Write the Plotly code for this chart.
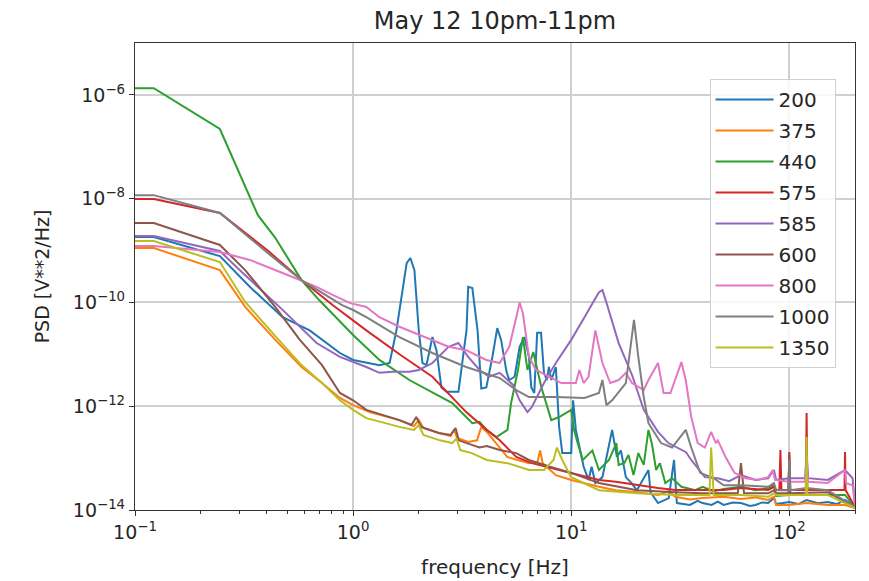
import plotly.graph_objects as go
import numpy as np

# ---- data (frequency [Hz], PSD [V**2/Hz]) ----
series_names = ["200", "375", "440", "575", "585", "600", "800", "1000", "1350"]

x_tick_vals = [0.1, 1, 10, 100]
x_tick_text = ["10<sup>−1</sup>", "10<sup>0</sup>", "10<sup>1</sup>", "10<sup>2</sup>"]
x_minor_vals = [0.2, 0.3, 0.4, 0.5, 0.6, 0.7, 0.8, 0.9, 2, 3, 4, 5, 6, 7, 8, 9,
                20, 30, 40, 50, 60, 70, 80, 90, 200]
y_tick_vals = [1e-14, 1e-12, 1e-10, 1e-8, 1e-6]
y_tick_text = ["10<sup>−14</sup>", "10<sup>−12</sup>", "10<sup>−10</sup>", "10<sup>−8</sup>", "10<sup>−6</sup>"]

psd_200 = [(0.1,1.82e-9),(0.122,1.82e-9),(0.245,7.8e-10),(0.336,2.0e-10),(0.475,5.2e-11),(0.632,2.9e-11),
    (0.87,1.06e-11),(1.0,7.8e-12),(1.32,6.2e-12),(1.47,6.8e-12),(1.58,2.9e-11),(1.76,5.7e-10),(1.83,7.2e-10),
    (1.91,4.2e-10),(2.0,2.9e-11),(2.08,6.8e-12),(2.17,6.2e-12),(2.31,2.15e-11),(2.41,1.2e-11),(2.54,2.3e-12),
    (2.68,1.9e-12),(3.04,1.9e-12),(3.31,2.9e-11),(3.37,2.0e-10),(3.52,1.9e-10),(3.72,2.9e-11),(3.87,2.2e-12),
    (4.08,2.3e-12),(4.35,8.9e-12),(4.58,3.2e-11),(4.77,1.9e-11),(5.05,4.6e-12),(5.2,3.2e-12),(5.5,3.7e-12),
    (5.8,1.4e-11),(6.1,2.15e-11),(6.4,8.9e-12),(6.56,2.3e-12),(6.77,1.8e-12),(6.98,2.6e-11),(7.27,2.6e-11),
    (7.5,4.4e-12),(7.74,3.2e-12),(7.9,5.7e-12),(8.1,3.2e-12),(8.5,5.7e-12),(8.8,4.0e-13),(9.1,1.25e-13),
    (10.0,1.25e-13),(10.2,1.3e-12),(10.5,3.5e-13),(10.9,1.6e-13),(11.4,6.8e-14),(12.0,3.8e-14),(12.4,6.8e-14),
    (12.9,3.3e-14),(13.9,4.3e-14),(15.4,3.5e-13),(16.2,1.05e-13),(16.9,1.4e-13),(17.8,4.3e-14),(18.9,3.3e-14),
    (20,2.4e-14),(22.6,5.9e-14),(23.1,2.2e-14),(25,1.36e-14),(28,1.7e-14),(29.6,9.2e-14),(30.5,1.36e-14),
    (35,1.25e-14),(38,1.5e-14),(40,1.36e-14),(44,1.25e-14),(47,1.45e-14),(50,1.25e-14),(55,1.4e-14),
    (60,1.36e-14),(66,1.2e-14),(70,1.25e-14),(75,1.4e-14),(80,1.36e-14),(85,1.7e-14),(87,1.3e-14),
    (100,1.43e-14),(110,1.3e-14),(120,1.56e-14),(135,1.35e-14),(150,1.43e-14),(165,1.3e-14),(180,1.56e-14),
    (195,1.25e-14),(200,1.09e-14)]

psd_375 = [(0.1,1.12e-9),(0.122,1.12e-9),(0.245,4.2e-10),(0.32,8.2e-11),(0.44,1.9e-11),(0.58,5.7e-12),
    (0.72,2.8e-12),(0.87,1.44e-12),(1.0,1.05e-12),(1.19,7.7e-13),(1.63,5.4e-13),(1.9,4.15e-13),(2.0,5.4e-13),
    (2.1,3.8e-13),(2.47,3.05e-13),(2.8,2.67e-13),(2.9,3.5e-13),(3.0,2.44e-13),(3.37,2.04e-13),(3.7,2.2e-13),
    (3.87,4.0e-13),(4.1,3.2e-13),(4.7,1.6e-13),(5.1,1.05e-13),(6.4,8.0e-14),(7.0,8.4e-14),(7.2,1.4e-13),
    (7.4,8.0e-14),(8.5,4.7e-14),(10,3.8e-14),(13.4,2.8e-14),(16,2.4e-14),(20,2.2e-14),(25,1.95e-14),
    (28,2.3e-14),(30,1.8e-14),(35,1.6e-14),(40,1.7e-14),(50,1.8e-14),(60,1.63e-14),(70,1.75e-14),
    (80,1.56e-14),(85,1.8e-14),(87,1.25e-14),(100,1.25e-14),(120,1.36e-14),(150,1.25e-14),(180,1.25e-14),
    (200,1.09e-14)]

psd_440 = [(0.1,1.35e-6),(0.122,1.35e-6),(0.245,2.2e-7),(0.366,4.8e-9),(0.438,1.8e-9),(0.58,2.7e-10),
    (0.70,1.1e-10),(0.886,4.0e-11),(1.0,2.36e-11),(1.32,7.8e-12),(1.81,3.2e-12),(2.85,1.15e-12),(3.52,4.7e-13),
    (3.8,5.0e-13),(4.08,3.5e-13),(4.54,2.55e-13),(5.1,3.5e-13),(5.3,1.15e-12),(5.7,5.0e-12),(6.0,2.15e-11),
    (6.3,5.0e-12),(6.7,1.11e-11),(7.3,2.3e-12),(8.1,5.4e-13),(8.8,6.2e-13),(10,8.5e-13),(10.3,3.5e-13),
    (10.7,1.95e-13),(11.3,9.2e-14),(12.5,1.4e-13),(13.4,5.9e-14),(14.9,9.2e-14),(16.1,1.95e-13),(16.5,7.4e-14),
    (17.5,8.0e-14),(18.3,1.15e-13),(19.3,4.7e-14),(20.3,1.25e-13),(21.5,7.4e-14),(22.6,3.5e-13),(23.5,1.79e-13),
    (24.5,5.9e-14),(25.5,8.0e-14),(27,3.3e-14),(29,4.1e-14),(32,2.8e-14),(37,2.4e-14),(40,2.8e-14),
    (45,2.3e-14),(50,2.54e-14),(60,2.8e-14),(70,2.4e-14),(80,2.65e-14),(85,3.0e-14),(87,1.86e-14),
    (100,1.95e-14),(120,1.95e-14),(150,1.95e-14),(180,1.95e-14),(200,1.14e-14)]

psd_575 = [(0.1,9.8e-9),(0.122,9.8e-9),(0.245,5.3e-9),(0.406,1.0e-9),(0.58,2.7e-10),(0.805,8.9e-11),
    (1.15,2.9e-11),(1.65,9.7e-12),(2.31,3.7e-12),(3.3,7.7e-13),(4.1,3.5e-13),(4.7,2.2e-13),(5.6,1.05e-13),
    (6.6,8.0e-14),(8.8,5.9e-14),(13.4,3.8e-14),(16,3.5e-14),(20,3.0e-14),(25,2.65e-14),(30,2.43e-14),
    (40,2.43e-14),(50,2.43e-14),(60,2.65e-14),(80,2.43e-14),(85,2.8e-14),(87,2.43e-14),(90,2.43e-14),
    (91,1.43e-13),(92,2.43e-14),(99,2.43e-14),(100,1.31e-13),(101,2.43e-14),(119,2.43e-14),(120,7.4e-13),
    (121,2.43e-14),(150,2.43e-14),(179,2.43e-14),(180,1.31e-13),(181,2.43e-14),(200,1.14e-14)]

psd_585 = [(0.1,1.9e-9),(0.122,1.9e-9),(0.245,9.8e-10),(0.312,3.7e-10),(0.475,7.2e-11),(0.68,1.65e-11),
    (0.87,8.9e-12),(1.15,5.7e-12),(1.32,4.4e-12),(1.52,4.6e-12),(1.81,4.6e-12),(2.0,5.0e-12),(2.31,6.8e-12),
    (2.74,1.4e-11),(3.04,1.65e-11),(3.37,8.9e-12),(3.8,5.0e-12),(4.2,3.7e-12),(4.7,4.4e-12),(5.4,2.6e-12),
    (5.8,1.3e-12),(6.3,7.7e-13),(6.6,9.7e-13),(7.5,2.8e-12),(8.5,6.8e-12),(10.0,1.9e-11),(11.5,5.2e-11),
    (13.4,1.58e-10),(13.9,1.73e-10),(14.5,1.0e-10),(16.5,1.65e-11),(19,4.0e-12),(21.5,8.5e-13),(25,3.2e-13),
    (27.9,1.95e-13),(33.6,1.3e-13),(35.5,9.2e-14),(41,4.3e-14),(47,4.1e-14),(53,3.6e-14),(60,4.7e-14),
    (70,3.8e-14),(80,4.1e-14),(85,5.9e-14),(87,3.8e-14),(100,4.1e-14),(118,4.1e-14),(120,1.15e-13),
    (122,4.1e-14),(150,3.8e-14),(180,5.9e-14),(195,4.1e-14),(200,1.25e-14)]

psd_600 = [(0.1,3.4e-9),(0.122,3.4e-9),(0.245,1.28e-9),(0.32,4.2e-10),(0.44,8.15e-11),(0.57,1.9e-11),
    (0.72,6.2e-12),(0.87,1.8e-12),(1.0,1.3e-12),(1.15,8.5e-13),(1.63,5.4e-13),(1.85,4.35e-13),(1.95,6.2e-13),
    (2.05,4.0e-13),(2.47,3.05e-13),(2.8,2.8e-13),(2.95,3.8e-13),(3.05,2.2e-13),(3.5,1.8e-13),(3.8,1.6e-13),
    (4.1,1.71e-13),(4.7,1.43e-13),(5.6,1.25e-13),(6.4,9.2e-14),(8.0,6.8e-14),(10,5.2e-14),(13.4,3.3e-14),
    (20,2.4e-14),(30,2.2e-14),(40,2.1e-14),(50,2.1e-14),(58,2.1e-14),(60,8.0e-14),(62,2.1e-14),(80,2.1e-14),
    (85,2.4e-14),(87,2.1e-14),(99,2.1e-14),(100,1.15e-13),(101,2.1e-14),(150,2.2e-14),(200,1.14e-14)]

psd_800 = [(0.1,1.22e-9),(0.122,1.22e-9),(0.245,9.4e-10),(0.336,6.6e-10),(0.475,3.7e-10),(0.68,2.0e-10),
    (0.805,1.4e-10),(0.97,9.7e-11),(1.15,8.2e-11),(1.32,5.2e-11),(1.63,3.4e-11),(2.31,1.9e-11),(2.74,1.4e-11),
    (3.3,1.2e-11),(4.08,7.8e-12),(4.7,6.8e-12),(5.2,1.4e-11),(5.6,5.2e-11),(5.8,1.0e-10),(6.0,6.25e-11),
    (6.4,8.9e-12),(6.9,5.0e-12),(7.9,3.7e-12),(9.0,2.8e-12),(10.5,2.8e-12),(10.9,5.0e-12),(11.4,2.8e-12),
    (12.0,3.7e-12),(12.9,2.9e-11),(13.9,6.8e-12),(15.1,2.8e-12),(16.5,3.2e-12),(17.8,4.4e-12),(19,2.8e-12),
    (21.5,2.05e-12),(22.6,3.2e-12),(25,6.8e-12),(26.5,1.8e-12),(28.5,1.8e-12),(32,7.1e-12),(33.5,3.2e-12),
    (35.5,6.2e-13),(38,1.95e-13),(41,1.6e-13),(43.8,3.2e-13),(46,1.95e-13),(47,2.2e-13),(51,1.05e-13),
    (56,5.2e-14),(63,4.1e-14),(72,3.8e-14),(80,4.3e-14),(84,5.9e-14),(86,3.8e-14),(100,3.5e-14),(118,3.5e-14),
    (120,5.9e-14),(122,3.5e-14),(150,3.3e-14),(180,5.9e-14),(182,3.3e-14),(195,3.0e-14),(200,1.25e-14)]

psd_1000 = [(0.1,1.17e-8),(0.122,1.17e-8),(0.245,5.3e-9),(0.406,8.95e-10),(0.58,2.7e-10),(0.72,1.52e-10),
    (0.89,8.9e-11),(1.0,7.15e-11),(1.15,5.2e-11),(1.63,2.15e-11),(2.31,1.06e-11),(3.3,5.7e-12),(4.7,3.49e-12),
    (5.6,2.05e-12),(6.4,1.5e-12),(8.5,1.5e-12),(11.5,1.44e-12),(13.4,1.8e-12),(13.9,3.2e-12),(14.5,1.05e-12),
    (15.4,1.3e-12),(17.8,2.8e-12),(19.4,4.6e-11),(20.3,8.9e-12),(21.5,1.5e-12),(22.6,4.7e-13),(25.8,1.95e-13),
    (29,1.6e-13),(33.5,3.5e-13),(35.5,1.6e-13),(39,5.2e-14),(45,4.1e-14),(50,3.0e-14),(60,3.0e-14),(80,2.8e-14),
    (85,3.3e-14),(87,2.4e-14),(99,2.4e-14),(100,9.2e-14),(101,2.4e-14),(120,2.65e-14),(150,2.4e-14),
    (200,1.14e-14)]

psd_1350 = [(0.1,1.52e-9),(0.122,1.52e-9),(0.245,6.0e-10),(0.32,1.02e-10),(0.44,2.25e-11),(0.58,6.2e-12),
    (0.72,2.8e-12),(0.87,1.3e-12),(1.0,8.5e-13),(1.15,5.9e-13),(1.63,4.0e-13),(1.9,3.5e-13),(2.0,4.35e-13),
    (2.1,2.8e-13),(2.5,2.2e-13),(2.85,1.95e-13),(2.98,2.4e-13),(3.1,1.43e-13),(3.5,1.25e-13),(4.1,9.2e-14),
    (5.1,8.0e-14),(6.4,5.9e-14),(7.5,5.9e-14),(8.3,9.2e-14),(8.6,1.6e-13),(9.1,9.2e-14),(10,4.3e-14),
    (13.4,2.4e-14),(20,2.1e-14),(30,1.95e-14),(43,1.95e-14),(43.8,1.6e-13),(45,1.95e-14),(60,1.95e-14),
    (80,1.8e-14),(85,2.1e-14),(87,1.95e-14),(119,1.95e-14),(120,2.55e-13),(121,1.95e-14),(150,1.95e-14),
    (200,1.09e-14)]

all_series = [psd_200, psd_375, psd_440, psd_575, psd_585, psd_600, psd_800, psd_1000, psd_1350]
colors = ["#1f77b4", "#ff7f0e", "#2ca02c", "#d62728", "#9467bd",
          "#8c564b", "#e377c2", "#7f7f7f", "#bcbd22"]

fig = go.Figure()
for name, pts, col in zip(series_names, all_series, colors):
    fig.add_trace(go.Scatter(
        x=[p[0] for p in pts], y=[p[1] for p in pts], mode="lines", name=name,
        legendgroup=name, line=dict(color=col, width=2)))

axis_common = dict(
    type="log", showline=True, linecolor="#333333", linewidth=1.3, mirror=True,
    ticks="outside", ticklen=5, tickcolor="#333333",
    showgrid=True, gridcolor="#cfcfcf", gridwidth=1.5, zeroline=False,
    tickfont=dict(size=19, color="#262626"),
)

# the page body adds an 8px offset, so margins are reduced by 8px
fig.update_layout(
    width=869, height=581,
    margin=dict(l=127, r=22, t=35, b=79),
    paper_bgcolor="white", plot_bgcolor="white",
    font=dict(family="DejaVu Sans", color="#262626"),
    title=dict(text="May 12 10pm-11pm", x=0.5, xref="paper", xanchor="center",
               y=0.979, yref="container", yanchor="middle", font=dict(size=24)),
    xaxis=dict(range=[-1, np.log10(200)], tickmode="array",
               tickvals=x_tick_vals, ticktext=x_tick_text,
               title=dict(text="frequency [Hz]", font=dict(size=20), standoff=18),
               minor=dict(tickmode="array", tickvals=x_minor_vals, ticks="outside",
                          ticklen=3, tickcolor="#333333", showgrid=False),
               **axis_common),
    yaxis=dict(range=[-14, -5], tickmode="array",
               tickvals=y_tick_vals, ticktext=y_tick_text,
               title=dict(text="PSD [V**2/Hz]", font=dict(size=19), standoff=18),
               **axis_common),
    legend=dict(x=0.798, y=0.923, xanchor="left", yanchor="top",
                bgcolor="rgba(255,255,255,0.85)", bordercolor="#d0d0d0", borderwidth=1,
                font=dict(size=20), tracegroupgap=2, itemwidth=58),
    showlegend=True,
)

fig.write_html("out.html")
